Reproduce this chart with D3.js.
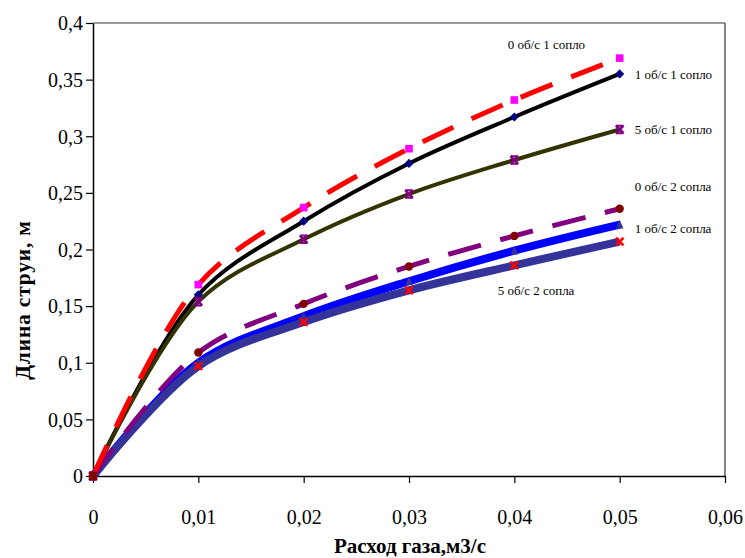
<!DOCTYPE html>
<html><head><meta charset="utf-8">
<script src="https://cdn.jsdelivr.net/npm/d3@7"></script>
<style>
body{margin:0;background:#fff;}
svg{display:block;}
text{font-family:"Liberation Serif","Times New Roman","DejaVu Serif",serif;}
</style></head>
<body>
<svg id="chart" width="745" height="558"></svg>
<script>
// ---- data ----
const xValues = [0, 0.01, 0.02, 0.03, 0.04, 0.05];
const seriesNames = ["0 об/с 1 сопло","1 об/с 1 сопло","5 об/с 1 сопло","0 об/с 2 сопла","1 об/с 2 сопла","5 об/с 2 сопла"];
const s0_1 = [0, 0.169, 0.237, 0.289, 0.332, 0.369];
const s1_1 = [0, 0.160, 0.225, 0.276, 0.317, 0.355];
const s5_1 = [0, 0.154, 0.209, 0.249, 0.279, 0.306];
const s0_2 = [0, 0.109, 0.152, 0.185, 0.212, 0.236];
const s1_2 = [0, 0.100, 0.141, 0.172, 0.199, 0.222];
const s5_2 = [0, 0.097, 0.136, 0.164, 0.186, 0.207];
const xTicks = [0, 0.01, 0.02, 0.03, 0.04, 0.05, 0.06];
const yTicks = [0, 0.05, 0.1, 0.15, 0.2, 0.25, 0.3, 0.35, 0.4];
const xTitle = "Расход газа,м3/с";
const yTitle = "Длина струи, м";

// ---- styles ----
const styles = [
  {vals:s0_1, line:"#FF0000", w:5, dash:"34,20", marker:"square", mcol:"#FF00FF", lab:{dx:-112, dy:-14}},
  {vals:s1_1, line:"#000000", w:4, dash:null, marker:"diamond", mcol:"#000080", lab:{dx:15, dy:0}},
  {vals:s5_1, line:"#333300", w:4, dash:null, marker:"star", mcol:"#800080", lab:{dx:15, dy:0}},
  {vals:s0_2, line:"#800080", w:5, dash:"34,20", marker:"circle", mcol:"#800000", lab:{dx:15, dy:-22}},
  {vals:s1_2, line:"#0000FF", w:8, dash:null, marker:"triangle", mcol:"#333399", lab:{dx:15, dy:4}},
  {vals:s5_2, line:"#333399", w:8, dash:null, marker:"x", mcol:"#FF0000", lab:{dx:-122, dy:49}}
];
const drawOrder = [4,5,3,1,2,0];

const svg = d3.select("#chart");
const m = {left:93, right:20, top:23, bottom:82};
const W = 745, H = 558;
const x = d3.scaleLinear().domain([0,0.06]).range([m.left, W - m.right]);
const y = d3.scaleLinear().domain([0,0.4]).range([H - m.bottom, m.top]);
const fmt = d => d === 0 ? "0" : String(+d.toFixed(3)).replace(".", ",");

// frame top/right
svg.append("line").attr("x1", x(0)).attr("x2", x(0.06)).attr("y1", y(0.4)).attr("y2", y(0.4))
  .attr("stroke", "#777").attr("stroke-width", 1.3);
svg.append("line").attr("x1", x(0.06)).attr("x2", x(0.06)).attr("y1", y(0.4)).attr("y2", y(0))
  .attr("stroke", "#444").attr("stroke-width", 1.3);

// axes
const xAxis = svg.append("g").attr("transform", `translate(0,${y(0)})`)
  .call(d3.axisBottom(x).tickValues(xTicks).tickFormat(fmt).tickSize(7).tickSizeOuter(0));
const yAxis = svg.append("g").attr("transform", `translate(${x(0)},0)`)
  .call(d3.axisLeft(y).tickValues(yTicks).tickFormat(fmt).tickSize(7).tickSizeOuter(0));
[xAxis, yAxis].forEach(g => {
  g.attr("font-family", null);
  g.select(".domain").attr("stroke", "#000").attr("stroke-width", 1.5);
  g.selectAll(".tick line").attr("stroke", "#000").attr("stroke-width", 1.2);
  g.selectAll("text").attr("font-size", 20).attr("fill", "#000");
});
xAxis.selectAll("text").attr("dy", "0").attr("y", 48);
yAxis.selectAll("text").attr("x", -10).attr("dy", "0.34em");

// titles
svg.append("text").attr("x", 410).attr("y", 553).attr("text-anchor", "middle")
  .attr("font-weight", "bold").attr("font-size", 21).text(xTitle);
svg.append("text").attr("transform", `translate(30,${300}) rotate(-90)`).attr("text-anchor", "middle")
  .attr("font-weight", "bold").attr("font-size", 21.5).attr("letter-spacing", 0.8).text(yTitle);

// lines
const lineGen = d3.line().x((d,i) => x(xValues[i])).y(d => y(d)).curve(d3.curveCatmullRom.alpha(0.5));
const gLines = svg.append("g");
drawOrder.forEach(k => {
  const s = styles[k];
  gLines.append("path").datum(s.vals).attr("d", lineGen).attr("fill", "none")
    .attr("stroke", s.line).attr("stroke-width", s.w)
    .attr("stroke-dasharray", s.dash).attr("stroke-linejoin", "round");
});

// markers
const gM = svg.append("g");
function marker(g, type, cx, cy, col) {
  const r = 3.8;
  if (type === "square") g.append("rect").attr("x", cx - r).attr("y", cy - r).attr("width", 2*r).attr("height", 2*r).attr("fill", col);
  else if (type === "diamond") g.append("path").attr("d", `M${cx},${cy-r-0.8}L${cx+r+0.8},${cy}L${cx},${cy+r+0.8}L${cx-r-0.8},${cy}Z`).attr("fill", col);
  else if (type === "circle") g.append("circle").attr("cx", cx).attr("cy", cy).attr("r", r+0.4).attr("fill", col);
  else if (type === "triangle") g.append("path").attr("d", `M${cx},${cy-r-1}L${cx+r},${cy+r}L${cx-r},${cy+r}Z`).attr("fill", col);
  else if (type === "x") g.append("path").attr("d", `M${cx-r},${cy-r}L${cx+r},${cy+r}M${cx+r},${cy-r}L${cx-r},${cy+r}`).attr("stroke", col).attr("stroke-width", 2.6);
  else if (type === "star") {
    g.append("path").attr("d", `M${cx-r},${cy-r}L${cx+r},${cy+r}M${cx+r},${cy-r}L${cx-r},${cy+r}`).attr("stroke", col).attr("stroke-width", 2.6);
    g.append("path").attr("d", `M${cx-r},${cy-r}L${cx+r},${cy-r}M${cx-r},${cy+r}L${cx+r},${cy+r}`).attr("stroke", col).attr("stroke-width", 2);
  }
}
drawOrder.forEach(k => {
  const s = styles[k];
  s.vals.forEach((v,i) => marker(gM, s.marker, x(xValues[i]), y(v), s.mcol));
});
// origin marker as in reference
gM.append("rect").attr("x", x(0)-4).attr("y", y(0)-4).attr("width", 8).attr("height", 8).attr("fill", "#800000");

// labels
styles.forEach((s,k) => {
  const lx = x(xValues[xValues.length-1]), ly = y(s.vals[s.vals.length-1]);
  svg.append("text").attr("x", lx + s.lab.dx).attr("y", ly + s.lab.dy).attr("dy", "0.35em")
    .attr("text-anchor", "start").attr("font-size", 13).attr("fill", "#000").text(seriesNames[k]);
});
</script>
</body></html>
